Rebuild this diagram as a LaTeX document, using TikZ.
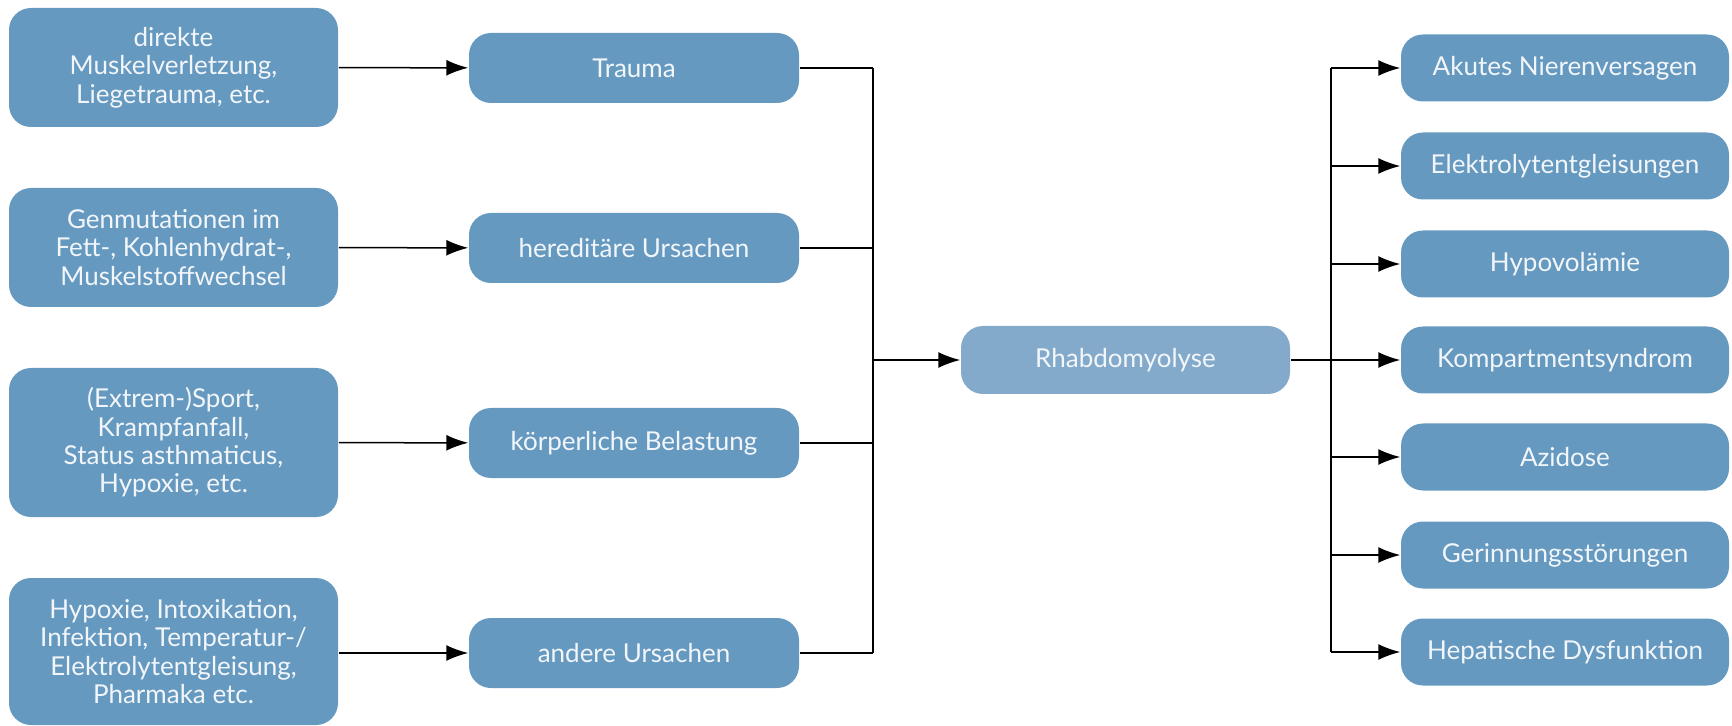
\documentclass[tikz,border=0pt]{standalone}
\usepackage{fontspec}
\setmainfont{Lato}
\usetikzlibrary{arrows.meta}
\definecolor{boxblue}{RGB}{101,153,192}
\definecolor{centerblue}{RGB}{131,170,202}
\definecolor{boxtext}{RGB}{242,246,250}

\begin{document}
\begin{tikzpicture}[x=0.5pt,y=-0.5pt,
        box/.style={fill=boxblue, rounded corners=11pt, inner sep=0pt, align=center,
            text=boxtext, font=\fontsize{13}{14.2}\selectfont},
        cause/.style={box, minimum width=164.5pt},
        group/.style={box, minimum width=165pt, minimum height=35pt},
        result/.style={box, minimum width=164pt, minimum height=33.5pt},
        arr/.style={-{Latex[length=11pt,width=8pt]}},
        line width=0.75pt]
        \useasboundingbox (0,0) rectangle (1732,726);

        \node[cause, minimum height=59.5pt] (dir) at (173.5,67.5) {direkte\\Muskelverletzung,\\Liegetrauma, etc.};
        \node[cause, minimum height=59.5pt] (gen) at (173.5,247.5) {Genmutationen im\\Fett-, Kohlenhydrat-,\\Muskelstoffwechsel};
        \node[cause, minimum height=74.5pt] (sport) at (173.5,442.5) {(Extrem-)Sport,\\Krampfanfall,\\Status asthmaticus,\\Hypoxie, etc.};
        \node[cause, minimum height=73.5pt] (hyp) at (173.5,651.5) {Hypoxie, Intoxikation,\\Infektion, Temperatur-/\\Elektrolytentgleisung,\\Pharmaka etc.};

        \node[group] (trauma) at (634,68) {Trauma};
        \node[group] (hered) at (634,248) {hereditäre Ursachen};
        \node[group] (koerp) at (634,443) {körperliche Belastung};
        \node[group] (andere) at (634,653) {andere Ursachen};

        \node[box, fill=centerblue, minimum width=164.5pt, minimum height=34pt] (rhabdo) at (1125.5,360) {Rhabdomyolyse};

        \node[result] (r1) at (1565,68) {Akutes Nierenversagen};
        \node[result] (r2) at (1565,166) {Elektrolytentgleisungen};
        \node[result] (r3) at (1565,264) {Hypovolämie};
        \node[result] (r4) at (1565,360) {Kompartmentsyndrom};
        \node[result] (r5) at (1565,457) {Azidose};
        \node[result] (r6) at (1565,555) {Gerinnungsstörungen};
        \node[result] (r7) at (1565,652) {Hepatische Dysfunktion};

        \coordinate (lbus) at (873,0);
        \coordinate (rbus) at (1331,0);

        \draw[arr] (dir) -- (trauma);
        \draw[arr] (gen) -- (hered);
        \draw[arr] (sport) -- (koerp);
        \draw[arr] (hyp.east |- andere) -- (andere);

        \foreach \n in {trauma,hered,koerp,andere}
            \draw (\n.east) -- (lbus |- \n);
        \draw (lbus |- trauma) -- (lbus |- andere);
        \draw[arr] (lbus |- rhabdo) -- (rhabdo);

        \draw (rhabdo) -- (rbus |- rhabdo);
        \draw (rbus |- r1) -- (rbus |- r7);
        \foreach \i in {1,...,7}
            \draw[arr] (rbus |- r\i) -- (r\i);
    \end{tikzpicture}
\end{document}
